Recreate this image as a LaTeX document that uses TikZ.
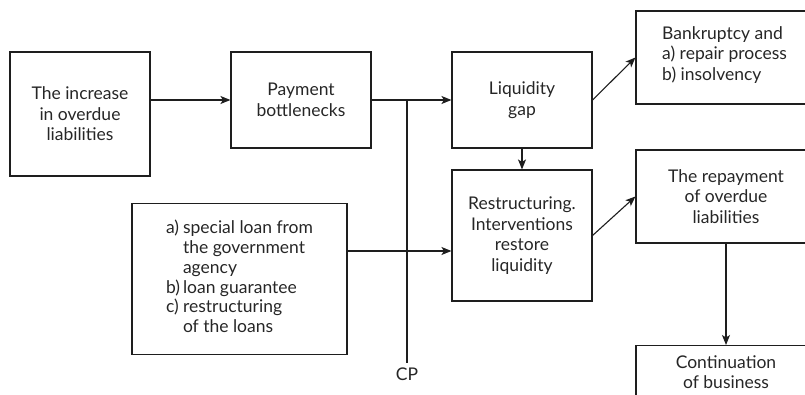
\documentclass[tikz,border=0pt]{standalone}
\usepackage{fontspec}
\setmainfont{Lato}
\usetikzlibrary{arrows.meta,calc}
\definecolor{ink}{HTML}{1E1E1E}
\definecolor{txtc}{HTML}{262626}
\tikzset{
  box/.style={draw=ink, line width=1.1pt, minimum width=140pt, inner sep=0pt, align=center, text=txtc, font=\fontsize{17.5}{20.5}\selectfont},
  wbox/.style={box, minimum width=180pt},
  lbl/.style={text=txtc, font=\fontsize{17.5}{20.5}\selectfont, inner sep=0pt},
  arr/.style={draw=ink, line width=1.1pt, -{Stealth[length=10pt,width=8pt,inset=2.5pt]}},
  ln/.style={draw=ink, line width=1.1pt}
}
\begin{document}
\begin{tikzpicture}[x=1pt,y=-1pt]
\useasboundingbox (0,0) rectangle (805,395);
\clip (0,0) rectangle (805,395);
\node[box, minimum height=124pt] (inc) at (80,114) {The increase\\in overdue\\liabilities};
\node[box, minimum height=96pt] (pay) at (301,100) {Payment\\bottlenecks};
\node[box, minimum height=96pt] (liq) at (522,100) {Liquidity\\gap};
\node[box, minimum height=131pt] (res) at (522,235.5) {Restructuring.\\Interventions\\restore\\liquidity};
\node[wbox, minimum height=93pt] (bank) at (726,57.5) {};
\node[lbl, anchor=west, align=left] (banktext) at (662,55) {Bankruptcy and\\a) repair process\\b) insolvency};
\node[wbox, minimum height=93pt] (rep) at (726,196.5) {The repayment\\of overdue\\liabilities};
\node[wbox, minimum height=100pt, anchor=north] (cont) at (726,345) {};
\node[lbl, anchor=north, align=center] (conttext) at ($(cont.north)+(0,10)$) {Continuation\\of business};
\node[box, minimum width=215pt, minimum height=151pt] (loans) at (239.5,279) {%
\begin{tabular}{@{}l@{\hspace{3pt}}l@{}}
a) & special loan from\\[-0.6pt]
   & the government\\[-0.6pt]
   & agency\\[-0.6pt]
b) & loan guarantee\\[-0.6pt]
c) & restructuring\\[-0.6pt]
   & of the loans
\end{tabular}};
\node[lbl] (cp) at (407,374) {CP};
\coordinate (cpjoin) at (407,100);
\draw[arr] (inc.east |- pay.west) -- (pay.west);
\draw[arr] (pay.east) -- (liq.west);
\draw[ln] (cpjoin) -- ([yshift=4pt]cp.north);
\draw[arr] (liq.east) -- (bank.west);
\draw[arr] (liq.south) -- (res.north);
\draw[arr] (res.east) -- (rep.west);
\draw[arr] ([yshift=28pt]loans.east) -- ([yshift=28pt]loans.east -| res.west);
\draw[arr] (rep.south) -- (cont.north);
\end{tikzpicture}
\end{document}
